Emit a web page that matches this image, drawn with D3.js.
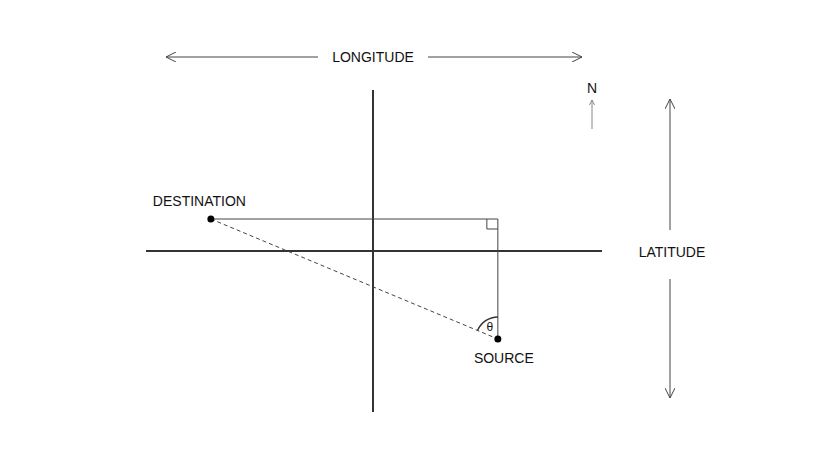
<!DOCTYPE html><html><head><meta charset="utf-8"><script src="https://cdn.jsdelivr.net/npm/d3@7"></script>
<style>body{margin:0;background:#fff}text{font-family:Arial,"Liberation Sans",sans-serif;font-size:14px;fill:#111}</style></head><body>
<script>
const names=["DESTINATION","SOURCE"];
const lons=[-5,3.85];
const lats=[1,-2.75];
const axisLabels=["LONGITUDE","LATITUDE","N"];
const W=816,H=460;
const svg=d3.select("body").append("svg").attr("width",W).attr("height",H);
const x=d3.scaleLinear().domain([-7,7]).range([146,600]);
const y=d3.scaleLinear().domain([-5,5]).range([411,91]);
const defs=svg.append("defs");
defs.append("marker").attr("id","ar").attr("viewBox","0 0 10 10").attr("refX",10).attr("refY",5)
 .attr("markerWidth",10).attr("markerHeight",10).attr("markerUnits","userSpaceOnUse").attr("orient","auto-start-reverse")
 .append("path").attr("d","M0,0L10,5L0,10").attr("fill","none").attr("stroke","#444").attr("stroke-width",1);
const ln=(x1,y1,x2,y2,w,c)=>svg.append("line").attr("x1",x1).attr("y1",y1).attr("x2",x2).attr("y2",y2).attr("stroke",c||"#333").attr("stroke-width",w||1);
// axes
ln(x(0),90,x(0),412,2,"#333");
ln(146,y(0),602,y(0),2,"#333");
const dx=x(lons[0]),dy=y(lats[0]),sx=x(lons[1]),sy=y(lats[1]);
ln(dx,dy,sx,dy,1,"#444");ln(sx,dy,sx,sy,1,"#444");
ln(dx,dy,sx,sy,1,"#444").attr("stroke-dasharray","4,3");
svg.append("path").attr("d",`M${sx-11},${dy}V${dy+10}H${sx}`).attr("fill","none").attr("stroke","#444");
// angle arc
const r=22,ang=Math.atan2(dy-sy,dx-sx);
svg.append("path").attr("d",`M${sx},${sy-r}A${r},${r} 0 0 0 ${sx+r*Math.cos(ang)},${sy+r*Math.sin(ang)}`).attr("fill","none").attr("stroke","#333").attr("stroke-width",1.5);
svg.append("text").attr("x",sx-8).attr("y",sy-8).attr("text-anchor","middle").style("font-size","12px").text("θ");
svg.selectAll("circle.p").data(lons).join("circle").attr("cx",d=>x(d)).attr("cy",(d,i)=>y(lats[i])).attr("r",3.5).attr("fill","#000");
svg.append("text").attr("x",dx-58).attr("y",dy-13).text(names[0]);
svg.append("text").attr("x",sx+6).attr("y",sy+24).attr("text-anchor","middle").text(names[1]);
// longitude
ln(318,57,166,57,1,"#444").attr("marker-end","url(#ar)");
ln(428,57,582,57,1,"#444").attr("marker-end","url(#ar)");
svg.append("text").attr("x",373).attr("y",62).attr("text-anchor","middle").text(axisLabels[0]);
// latitude
ln(670,230,670,99,1,"#444").attr("marker-end","url(#ar)");
ln(670,279,670,398,1,"#444").attr("marker-end","url(#ar)");
svg.append("text").attr("x",672).attr("y",257).attr("text-anchor","middle").text(axisLabels[1]);
// N
svg.append("text").attr("x",592).attr("y",93).attr("text-anchor","middle").text(axisLabels[2]);
ln(592,129,592,100,1,"#888");
svg.append("path").attr("d","M589.5,105L592,100L594.5,105").attr("fill","none").attr("stroke","#888");
</script></body></html>
